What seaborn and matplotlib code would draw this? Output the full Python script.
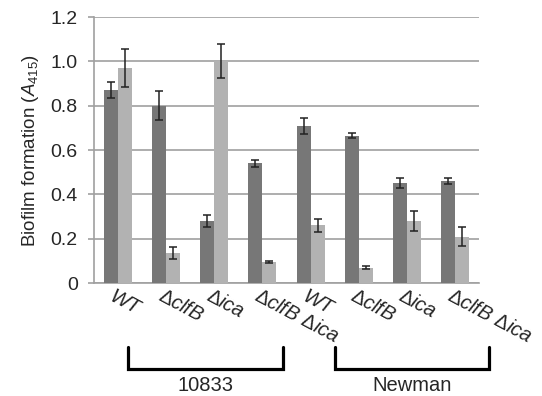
import numpy as np
import pandas as pd
import matplotlib
matplotlib.use('Agg')
import matplotlib.pyplot as plt
import seaborn as sns
from matplotlib.transforms import ScaledTranslation, blended_transform_factory

# ---- data ----
strains = ['10833'] * 4 + ['Newman'] * 4
mutants = ['WT', 'ΔclfB', 'Δica', 'ΔclfB Δica'] * 2
tick_labels = [r'$\mathit{WT}$', r'$\Delta\mathit{clfB}$', r'$\Delta\mathit{ica}$',
               r'$\Delta\mathit{clfB}\ \Delta\mathit{ica}$'] * 2
dark_vals = [0.87, 0.80, 0.28, 0.54, 0.71, 0.665, 0.45, 0.46]
dark_err = [0.035, 0.065, 0.027, 0.017, 0.036, 0.012, 0.022, 0.012]
light_vals = [0.97, 0.135, 1.00, 0.095, 0.26, 0.07, 0.28, 0.21]
light_err = [0.085, 0.027, 0.077, 0.004, 0.03, 0.007, 0.045, 0.043]
series = ['Series 1', 'Series 2']
yticks = [0, 0.2, 0.4, 0.6, 0.8, 1.0, 1.2]
ytick_labels = ['0', '0.2', '0.4', '0.6', '0.8', '1.0', '1.2']
groups = ['10833', 'Newman']

ids = [f'{s}-{m}' for s, m in zip(strains, mutants)]
df = pd.DataFrame({
    'id': ids * 2,
    'series': [series[0]] * 8 + [series[1]] * 8,
    'value': dark_vals + light_vals,
    'err': dark_err + light_err,
})

sns.set_theme(style='white')
plt.rcParams['font.family'] = ['Liberation Sans', 'DejaVu Sans']
plt.rcParams['mathtext.fontset'] = 'custom'
plt.rcParams['mathtext.rm'] = 'Liberation Sans'
plt.rcParams['mathtext.it'] = 'Liberation Sans:italic'

fig = plt.figure(figsize=(5.42, 3.96), dpi=100)
ax = fig.add_axes([0.173, 0.285, 0.711, 0.672])

sns.barplot(data=df, x='id', y='value', hue='series', order=ids, hue_order=series,
            palette=['#777777', '#b2b2b2'], width=0.58, gap=0, errorbar=None,
            legend=False, ax=ax, zorder=3, linewidth=0)

# error bars
for cont, errs in zip(ax.containers, [dark_err, light_err]):
    xs = [p.get_x() + p.get_width() / 2 for p in cont.patches]
    ys = [p.get_height() for p in cont.patches]
    ax.errorbar(xs, ys, yerr=errs, fmt='none', ecolor='#222222', elinewidth=1.1,
                capsize=3.2, capthick=1.1, zorder=4)

ax.set_ylim(0, 1.2)
ax.set_xlim(-0.5, 7.5)
ax.set_yticks(yticks)
ax.set_yticklabels(ytick_labels, fontsize=14)
ax.yaxis.grid(True, color='#a0a0a0', linewidth=1.2, zorder=0)
ax.set_axisbelow(True)
ax.tick_params(axis='y', length=4.5, width=1.2, color='#a0a0a0', pad=7, left=True)
ax.tick_params(axis='x', length=0)
for s in ['top', 'right']:
    ax.spines[s].set_visible(False)
for s in ['left', 'bottom']:
    ax.spines[s].set_color('#a0a0a0')
    ax.spines[s].set_linewidth(1.2)

ax.set_xticks(range(8))
ax.set_xticklabels(tick_labels, rotation=-28, ha='left', va='center',
                   rotation_mode='anchor', fontsize=14.5)
off = ScaledTranslation(-7 / 100, -6 / 100, fig.dpi_scale_trans)
for lab in ax.get_xticklabels():
    lab.set_transform(lab.get_transform() + off)
ax.set_xlabel('')
ax.set_ylabel(r'Biofilm formation ($\mathit{A}_{415}$)', fontsize=13.5, labelpad=7)

# brackets
trans = blended_transform_factory(ax.transData, ax.transAxes)
brackets = [(0.21, 3.43), (4.51, 7.71)]
for (x0, x1), name in zip(brackets, groups):
    ax.plot([x0, x0, x1, x1], [-0.24, -0.323, -0.323, -0.24], color='black',
            linewidth=2.3, transform=trans, clip_on=False, solid_joinstyle='miter')
    ax.text((x0 + x1) / 2, -0.385, name, transform=trans, ha='center', va='center',
            fontsize=14.5)

fig.savefig('out.png', dpi=100, facecolor='white')
